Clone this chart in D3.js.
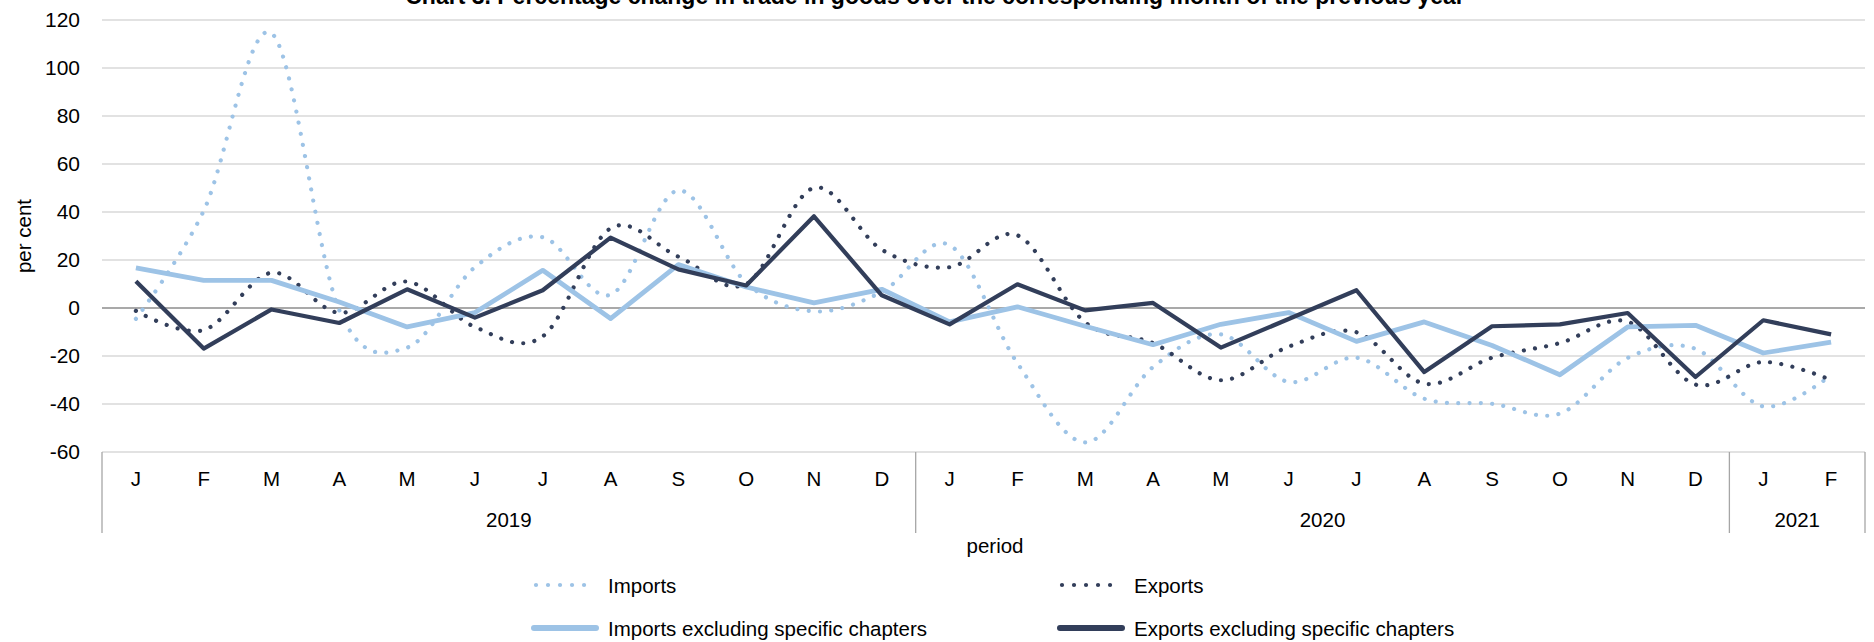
<!DOCTYPE html>
<html>
<head>
<meta charset="utf-8">
<script src="https://cdnjs.cloudflare.com/ajax/libs/d3/7.8.5/d3.min.js"></script>
<style>
  html, body { margin: 0; padding: 0; background: #fff; }
  svg text { font-family: "Liberation Sans", Arial, sans-serif; fill: #000; }
</style>
</head>
<body>
<svg id="chart" width="1874" height="642"></svg>
<script>
// ---- data ----
const months = ["J","F","M","A","M","J","J","A","S","O","N","D",
                "J","F","M","A","M","J","J","A","S","O","N","D",
                "J","F"];
const years = ["2019","2020","2021"];
const yearCounts = [12, 12, 2];
const yTicks = [-60, -40, -20, 0, 20, 40, 60, 80, 100, 120];

const imports = [-4.5, 40.5, 114.5, -1, -16.5, 17, 29.5, 5.5, 49, 10.5, -1.4, 6.7,
                 26.2, -23, -56, -24.6, -11, -30.8, -20.7, -37.8, -39.9, -44, -20.8, -17, -41, -28];
const exportsS = [-1.2, -9.2, 14.7, -2, 11, -7.9, -11.8, 33.2, 21.4, 10, 50.1, 24.3,
                  17, 30.3, -6, -14.6, -30.1, -16.1, -10.1, -31.5, -20.7, -14.6, -5.7, -31.9, -22.5, -30];
const importsExcl = [16.7, 11.5, 11.5, 2.5, -7.9, -1.9, 15.7, -4.4, 18.1, 8.75, 2.1, 7.8,
                     -5.8, 0.5, -7.6, -15.3, -6.8, -1.9, -13.9, -5.8, -15.6, -27.8, -7.9, -7.2, -18.75, -14.2];
const exportsExcl = [11.1, -16.9, -0.6, -6.25, 7.8, -4.0, 7.4, 29.3, 16.1, 9.4, 38.2, 5.3,
                     -6.8, 9.9, -1.0, 2.1, -16.5, -4.6, 7.4, -26.7, -7.6, -6.8, -2.1, -28.75, -5.1, -11.0];

const seriesNames = ["Imports", "Exports", "Imports excluding specific chapters", "Exports excluding specific chapters"];
const title = "Chart 3. Percentage change in trade in goods over the corresponding month of the previous year";

// ---- styles ----
const LIGHT = "#9DC3E6", DARK = "#323E5A";
const seriesDefs = [
  {name: seriesNames[0], values: imports, color: LIGHT, dotted: true, width: 4.2},
  {name: seriesNames[1], values: exportsS, color: DARK, dotted: true, width: 4.2},
  {name: seriesNames[2], values: importsExcl, color: LIGHT, dotted: false, width: 4.8},
  {name: seriesNames[3], values: exportsExcl, color: DARK, dotted: false, width: 4.2}
];

const svg = d3.select("#chart");
const L = 102, R = 1865, T = 20, B = 452;
const FS = 20.5;

const x = d3.scaleBand().domain(d3.range(months.length)).range([L, R]).padding(0);
const y = d3.scaleLinear().domain([-60, 120]).range([B, T]);

// title
svg.append("text").attr("x", 935).attr("y", 4)
  .attr("text-anchor", "middle").attr("font-weight", "bold").attr("font-size", 23)
  .text(title);

// gridlines
svg.append("g").selectAll("line").data(yTicks.filter(d => d !== 0)).join("line")
  .attr("x1", L).attr("x2", R).attr("y1", d => y(d)).attr("y2", d => y(d))
  .attr("stroke", "#D9D9D9").attr("stroke-width", 1.4);

// y tick labels via axis
const yAxis = svg.append("g").attr("transform", `translate(${L},0)`)
  .call(d3.axisLeft(y).tickValues(yTicks).tickFormat(d => String(d)).tickSize(0).tickPadding(22));
yAxis.select(".domain").remove();
yAxis.selectAll("text").attr("font-size", 21).attr("font-family", "Liberation Sans, Arial, sans-serif").attr("fill", "#000");

// zero line
svg.append("line").attr("x1", L).attr("x2", R).attr("y1", y(0)).attr("y2", y(0))
  .attr("stroke", "#8C8C8C").attr("stroke-width", 1.5);

// y axis title
svg.append("text").attr("transform", `translate(31,${236}) rotate(-90)`)
  .attr("text-anchor", "middle").attr("font-size", FS).text("per cent");

// category axis: month labels
svg.append("g").selectAll("text").data(months).join("text")
  .attr("x", (d, i) => x(i) + x.bandwidth() / 2).attr("y", 486)
  .attr("text-anchor", "middle").attr("font-size", FS).text(d => d);

// group dividers and year labels
const bounds = [0];
yearCounts.forEach(c => bounds.push(bounds[bounds.length - 1] + c));
const divX = i => (i < months.length ? x(i) : R);
svg.append("g").selectAll("line").data(bounds).join("line")
  .attr("x1", d => divX(d)).attr("x2", d => divX(d)).attr("y1", B).attr("y2", 533)
  .attr("stroke", "#A6A6A6").attr("stroke-width", 1.3);
svg.append("g").selectAll("text").data(years).join("text")
  .attr("x", (d, i) => (divX(bounds[i]) + divX(bounds[i + 1])) / 2).attr("y", 527)
  .attr("text-anchor", "middle").attr("font-size", FS).text(d => d);

// x axis title
svg.append("text").attr("x", 995).attr("y", 553).attr("text-anchor", "middle")
  .attr("font-size", FS).text("period");

// lines
const lineSmooth = d3.line().x((d, i) => x(i) + x.bandwidth() / 2).y(d => y(d)).curve(d3.curveCardinal.tension(0));
const lineStraight = d3.line().x((d, i) => x(i) + x.bandwidth() / 2).y(d => y(d));
seriesDefs.forEach(s => {
  const p = svg.append("path").datum(s.values)
    .attr("d", s.dotted ? lineSmooth : lineStraight)
    .attr("fill", "none").attr("stroke", s.color).attr("stroke-width", s.width)
    .attr("stroke-linejoin", "round");
  if (s.dotted) p.attr("stroke-dasharray", "0.01 11.3").attr("stroke-linecap", "round");
});

// legend
const legendPos = [[534, 585], [1060, 585], [534, 628], [1060, 628]];
seriesDefs.forEach((s, i) => {
  const [lx, ly] = legendPos[i];
  const ln = svg.append("line").attr("y1", ly).attr("y2", ly)
    .attr("stroke", s.color);
  if (s.dotted) {
    ln.attr("x1", lx + 2).attr("x2", lx + 62).attr("stroke-width", 4.2)
      .attr("stroke-dasharray", "0.01 12").attr("stroke-linecap", "round");
  } else {
    ln.attr("x1", lx).attr("x2", lx + 62).attr("stroke-width", 6).attr("stroke-linecap", "round");
  }
  svg.append("text").attr("x", lx + 74).attr("y", ly + 7.5).attr("font-size", FS).text(s.name);
});
</script>
</body>
</html>
